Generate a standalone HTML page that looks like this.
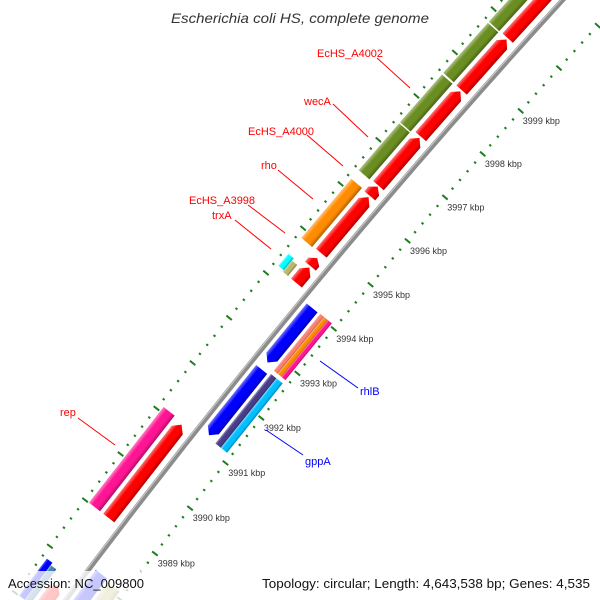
<!DOCTYPE html>
<html><head><meta charset="utf-8">
<style>html,body{margin:0;padding:0;background:#fff;width:600px;height:600px;overflow:hidden;}svg{display:block;font-family:"Liberation Sans",sans-serif;overflow:hidden;}</style>
</head><body>
<svg id="map" width="600" height="600" viewBox="0 0 600 600" xmlns="http://www.w3.org/2000/svg">
<defs>
<linearGradient id="shade" x1="0" y1="0" x2="0" y2="1">
<stop offset="0" stop-color="#fff" stop-opacity="0.45"/>
<stop offset="0.3" stop-color="#fff" stop-opacity="0"/>
<stop offset="0.7" stop-color="#000" stop-opacity="0"/>
<stop offset="1" stop-color="#000" stop-opacity="0.3"/>
</linearGradient>
<clipPath id="frame"><rect x="0" y="0" width="600" height="600"/></clipPath>
</defs>
<rect x="0" y="0" width="600" height="600" fill="#fff"/>
<g id="ring" clip-path="url(#frame)"></g>
<g id="labels">
<line x1="377" y1="58" x2="410" y2="88" stroke="#f00" stroke-width="1"/>
<text x="317" y="57" font-size="11" fill="#f00">EcHS_A4002</text>
<line x1="333" y1="104" x2="368" y2="137" stroke="#f00" stroke-width="1"/>
<text x="304" y="105" font-size="11" fill="#f00">wecA</text>
<line x1="307" y1="135" x2="343" y2="166" stroke="#f00" stroke-width="1"/>
<text x="248" y="135" font-size="11" fill="#f00">EcHS_A4000</text>
<line x1="278" y1="170" x2="313" y2="199" stroke="#f00" stroke-width="1"/>
<text x="261" y="169" font-size="11" fill="#f00">rho</text>
<line x1="248" y1="205" x2="285" y2="233" stroke="#f00" stroke-width="1"/>
<text x="189" y="204" font-size="11" fill="#f00">EcHS_A3998</text>
<line x1="235" y1="220" x2="271" y2="249" stroke="#f00" stroke-width="1"/>
<text x="212" y="219" font-size="11" fill="#f00">trxA</text>
<line x1="78" y1="418" x2="115" y2="445" stroke="#f00" stroke-width="1"/>
<text x="60" y="416" font-size="11" fill="#f00">rep</text>
<line x1="320" y1="361" x2="358" y2="388" stroke="#00f" stroke-width="1"/>
<text x="360" y="395" font-size="11" fill="#00f">rhlB</text>
<line x1="266" y1="430" x2="303" y2="455" stroke="#00f" stroke-width="1"/>
<text x="305" y="465" font-size="11" fill="#00f">gppA</text>
</g>
<text x="300" y="23" text-anchor="middle" font-size="14" font-style="italic" fill="#333" textLength="258" lengthAdjust="spacingAndGlyphs">Escherichia coli HS, complete genome</text>
<rect x="0" y="571" width="150" height="29" fill="#fff" fill-opacity="0.78"/>
<rect x="256" y="574" width="340" height="26" fill="#fff" fill-opacity="0.78"/>
<text x="8" y="588" font-size="13" fill="#111" textLength="136" lengthAdjust="spacingAndGlyphs">Accession: NC_009800</text>
<text x="262" y="588" font-size="13" fill="#111" textLength="328" lengthAdjust="spacingAndGlyphs">Topology: circular; Length: 4,643,538 bp; Genes: 4,535</text>
</svg>
<script>
// feature data (kbp)
const featStart = [3986.6,3989.0,3994.2,3994.58,3994.87,3996.17,3996.4,3997.52,3998.59,3999.79,
  3987.0,3987.0,3989.0,3994.2,3994.23,3994.85,3996.38,3997.47,3998.6,3999.78,
  3987.0,3991.2,3992.82,
  3987.0,3991.16,3991.16,3992.78,3992.78,3992.78];
const featEnd = [3987.55,3991.05,3994.55,3994.76,3996.14,3996.38,3997.49,3998.56,3999.76,4001.6,
  3987.8,3987.75,3991.1,3994.45,3994.5,3996.19,3997.45,3998.57,3999.76,4001.6,
  3988.15,3992.66,3994.04,
  3988.1,3992.7,3992.7,3994.05,3994.05,3994.05];
const featType = ['f','f','f','f','f','f','f','f','f','f',
  'b','b','b','b','b','b','b','b','b','b',
  'r','r','r',
  'b','b','b','b','b','b'];
const featLane = ['o1','o1','o1','o1','o1','o1','o1','o1','o1','o1',
  'o2b','o2a','o2','o2a','o2b','o2','o2','o2','o2','o2',
  'i1','i1','i1',
  'i2','i2a','i2b','i2x','i2y','i2z'];
const featColor = ['#ff0000','#ff0000','#ff0000','#ff0000','#ff0000','#ff0000','#ff0000','#ff0000','#ff0000','#ff0000',
  '#0000ff','#4682b4','#ff1493','#bdb76b','#00ffff','#ff8c00','#6b8e23','#6b8e23','#6b8e23','#6b8e23',
  '#0000ff','#0000ff','#0000ff',
  '#bdb76b','#483d8b','#00bfff','#fa8072','#ff8c00','#ff1493'];
const tickMajor = [3986,3987,3988,3989,3990,3991,3992,3993,3994,3995,3996,3997,3998,3999,4000,4001,4002];
const tickLabels = ['3989 kbp','3990 kbp','3991 kbp','3992 kbp','3993 kbp','3994 kbp','3995 kbp','3996 kbp','3997 kbp','3998 kbp','3999 kbp'];
const tickLabelKbp = [3989,3990,3991,3992,3993,3994,3995,3996,3997,3998,3999];

// geometry
const R = 8000, PX_PER_KBP = 57.75, K0 = 3994.0;
const nx = -0.771, ny = -0.637;
const P0 = [300, 301];
const C = [P0[0] - R*nx, P0[1] - R*ny];
const ROT = Math.atan2(-0.771, 0.637) * 180 / Math.PI;
const laneD = {o1:[8,22],o2:[26,40],o2a:[26,33],o2b:[33,40],i1:[-20,-6],i2:[-38,-23],i2a:[-30,-23],i2b:[-38,-30],i2x:[-28,-23],i2y:[-33,-28],i2z:[-38,-33]};
function sOf(k){ return (k - K0) * PX_PER_KBP; }
function angDeg(k){ return sOf(k) / R * 180 / Math.PI; }
function toScreen(k, d){
  const th = sOf(k)/R, r = R + d;
  const lx = r*Math.sin(th), ly = -r*Math.cos(th);
  const a = ROT*Math.PI/180;
  return [C[0] + lx*Math.cos(a) - ly*Math.sin(a), C[1] + lx*Math.sin(a) + ly*Math.cos(a)];
}
const NS = 'http://www.w3.org/2000/svg';
const ring = document.getElementById('ring');
const world = document.createElementNS(NS,'g');
world.setAttribute('transform', `translate(${C[0]},${C[1]}) rotate(${ROT})`);


ring.appendChild(world);

// backbone
const bb = document.createElementNS(NS,'circle');
bb.setAttribute('cx',0); bb.setAttribute('cy',0); bb.setAttribute('r',R);
bb.setAttribute('fill','none'); bb.setAttribute('stroke','#8c8c8c'); bb.setAttribute('stroke-width','5');


world.appendChild(bb);
const bb2 = document.createElementNS(NS,'circle');
bb2.setAttribute('cx',0); bb2.setAttribute('cy',0); bb2.setAttribute('r',R+1.5);
bb2.setAttribute('fill','none'); bb2.setAttribute('stroke','#c4c4c4'); bb2.setAttribute('stroke-width','1.2');


world.appendChild(bb2);

// ticks
for (let k10 = 39860; k10 <= 40020; k10 += 2){
  const k = k10/10;
  const major = tickMajor.indexOf(Math.round(k*1000)/1000) >= 0 && Math.abs(k - Math.round(k)) < 1e-6;
  [45, -43].forEach(dc => {
    const g = document.createElementNS(NS,'g');
    g.setAttribute('transform', `rotate(${angDeg(k)})`);
    const ln = document.createElementNS(NS,'line');
    const half = major ? 3.5 : 1.2;
    ln.setAttribute('x1',0); ln.setAttribute('x2',0);
    ln.setAttribute('y1', -(R+dc-half)); ln.setAttribute('y2', -(R+dc+half));
    ln.setAttribute('stroke','#1e7d1e'); ln.setAttribute('stroke-width','2');
    
    
    g.appendChild(ln);
    world.appendChild(g);
  });
}

// features
for (let i = 0; i < featStart.length; i++){
  const a0 = featStart[i], a1 = featEnd[i];
  const mid = (a0+a1)/2, L = sOf(a1) - sOf(a0);
  const [dIn, dOut] = laneD[featLane[i]];
  const yTop = -(R+dOut), yBot = -(R+dIn), h = yBot - yTop;
  const x0 = -L/2, x1 = L/2;
  const tip = Math.min(7, L*0.5);
  let pts;
  if (featType[i] === 'f') {
    pts = [[x0,yTop],[x1-tip,yTop],[x1,yTop+h/2],[x1-tip,yBot],[x0,yBot]];
  } else if (featType[i] === 'r') {
    pts = [[x0+tip,yTop],[x1,yTop],[x1,yBot],[x0+tip,yBot],[x0,yTop+h/2]];
  } else {
    pts = [[x0,yTop],[x1,yTop],[x1,yBot],[x0,yBot]];
  }
  const g = document.createElementNS(NS,'g');
  g.setAttribute('transform', `rotate(${angDeg(mid)})`);
  
  
  const p = document.createElementNS(NS,'polygon');
  p.setAttribute('points', pts.map(q=>q.join(',')).join(' '));
  p.setAttribute('fill', featColor[i]);
  
  
  g.appendChild(p);
  const s = document.createElementNS(NS,'polygon');
  s.setAttribute('points', pts.map(q=>q.join(',')).join(' '));
  s.setAttribute('fill', 'url(#shade)');
  
  
  g.appendChild(s);
  world.appendChild(g);
}

// tick labels
const tl = document.createElementNS(NS,'g');


ring.appendChild(tl);
for (let i = 0; i < tickLabels.length; i++){
  const [x, y] = toScreen(tickLabelKbp[i] - 0.1, -51);
  const t = document.createElementNS(NS,'text');
  t.setAttribute('x', x.toFixed(1)); t.setAttribute('y', (y+3.5).toFixed(1));
  t.setAttribute('font-size','9'); t.setAttribute('fill','#333');
  t.textContent = tickLabels[i];
  
  
  tl.appendChild(t);
}
</script>
</body></html>
